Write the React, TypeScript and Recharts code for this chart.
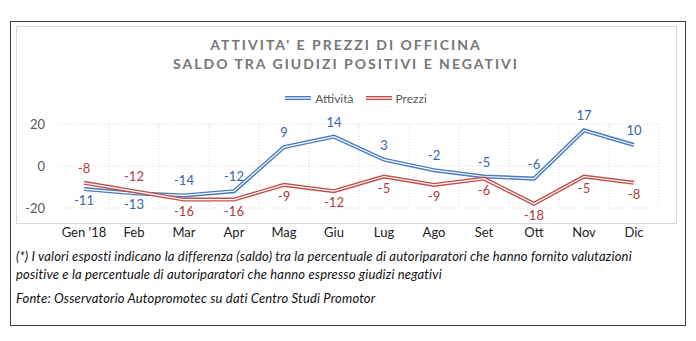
import React from "react";
import {
  LineChart,
  Line,
  XAxis,
  YAxis,
  CartesianGrid,
  LabelList,
} from "recharts";

const mesi = ["Gen '18", "Feb", "Mar", "Apr", "Mag", "Giu", "Lug", "Ago", "Set", "Ott", "Nov", "Dic"];
const attivita = [-11, -13, -14, -12, 9, 14, 3, -2, -5, -6, 17, 10];
const prezzi = [-8, -12, -16, -16, -9, -12, -5, -9, -6, -18, -5, -8];
const yTicks = [-20, 0, 20];

const BLUE = "#4a7abf";
const BLUE_TXT = "#3a64a8";
const RED = "#c0504d";
const RED_TXT = "#b0403d";
const FONT = "Lato, 'Liberation Sans', sans-serif";

const data = mesi.map((m, i) => ({ mese: m, attivita: attivita[i], prezzi: prezzi[i] }));

// etichetta sopra se la serie sta sopra l'altra, altrimenti sotto
const makeLabel = (own: number[], other: number[], color: string) => (props: any) => {
  const { x, y, index, value } = props;
  const above = own[index] >= other[index];
  return (
    <text
      x={x}
      y={above ? y - 10 : y + 16}
      textAnchor="middle"
      fill={color}
      fontSize={13}
      fontFamily={FONT}
    >
      {value}
    </text>
  );
};

const LegendItem = ({ color, label, gap }: { color: string; label: string; gap: number }) => (
  <span style={{ display: "inline-flex", alignItems: "center", marginRight: gap }}>
    <svg width={26} height={6} style={{ marginRight: 4 }}>
      <line x1={0} x2={26} y1={3} y2={3} stroke={color} strokeWidth={4} />
      <line x1={0} x2={26} y1={3} y2={3} stroke="#fff" strokeWidth={1.2} />
    </svg>
    {label}
  </span>
);

const App: React.FC = () => {
  return (
    <div
      style={{
        position: "absolute",
        left: 0,
        top: 0,
        width: 696,
        height: 341,
        background: "#fff",
        fontFamily: FONT,
        overflow: "hidden",
      }}
    >
      {/* cornice esterna */}
      <div
        style={{
          position: "absolute",
          left: 10,
          top: 21,
          width: 674,
          height: 303,
          border: "1.5px solid #3f3f3f",
        }}
      />
      {/* cornice grafico */}
      <div
        style={{
          position: "absolute",
          left: 16,
          top: 26,
          width: 659,
          height: 196,
          border: "1px solid #d9d9d9",
        }}
      />
      <div
        style={{
          position: "absolute",
          left: 16,
          top: 35,
          width: 660,
          textAlign: "center",
          color: "#767676",
          fontWeight: 700,
          fontSize: 14,
          letterSpacing: 2,
          lineHeight: "19px",
        }}
      >
        <div>ATTIVITA' E PREZZI DI OFFICINA</div>
        <div>SALDO TRA GIUDIZI POSITIVI E NEGATIVI</div>
      </div>
      <div
        style={{
          position: "absolute",
          left: 26,
          top: 89,
          width: 660,
          textAlign: "center",
          fontSize: 12,
          color: "#595959",
        }}
      >
        <LegendItem color={BLUE} label="Attività" gap={12} />
        <LegendItem color={RED} label="Prezzi" gap={0} />
      </div>
      <div style={{ position: "absolute", left: 0, top: 0 }}>
        <LineChart
          width={696}
          height={260}
          data={data}
          margin={{ top: 124, right: 37, left: 29, bottom: 22 }}
        >
          <CartesianGrid
            stroke="#d9d9d9"
            strokeDasharray="1 2"
            verticalCoordinatesGenerator={({ offset }: any) =>
              mesi.map((_, i) => offset.left + ((i + 1) * offset.width) / mesi.length)
            }
          />
          <XAxis
            dataKey="mese"
            scale="point"
            padding={{ left: 25, right: 25 }}
            axisLine={false}
            tickLine={false}
            height={30}
            tick={{ fill: "#222", fontSize: 13, fontFamily: FONT }}
            tickMargin={14}
            interval={0}
          />
          <YAxis
            domain={[-20, 20]}
            ticks={yTicks}
            width={30}
            axisLine={false}
            tickLine={false}
            tick={{ fill: "#595959", fontSize: 13, fontFamily: FONT }}
            tickMargin={8}
          />
          <Line dataKey="attivita" stroke={BLUE} strokeWidth={4} dot={false} isAnimationActive={false}>
            <LabelList dataKey="attivita" content={makeLabel(attivita, prezzi, BLUE_TXT)} />
          </Line>
          <Line dataKey="attivita" stroke="#fff" strokeWidth={1.2} dot={false} isAnimationActive={false} />
          <Line dataKey="prezzi" stroke={RED} strokeWidth={4} dot={false} isAnimationActive={false}>
            <LabelList dataKey="prezzi" content={makeLabel(prezzi, attivita, RED_TXT)} />
          </Line>
          <Line dataKey="prezzi" stroke="#fff" strokeWidth={1.2} dot={false} isAnimationActive={false} />
        </LineChart>
      </div>
      <div
        style={{
          position: "absolute",
          left: 16,
          top: 247,
          width: 668,
          fontSize: 13,
          letterSpacing: 0.17,
          fontStyle: "italic",
          color: "#111",
          lineHeight: "18px",
        }}
      >
        <div>
          (*) I valori esposti indicano la differenza (saldo) tra la percentuale di autoriparatori che hanno fornito valutazioni
        </div>
        <div>positive e la percentuale di autoriparatori che hanno espresso giudizi negativi</div>
        <div style={{ marginTop: 6 }}>Fonte: Osservatorio Autopromotec su dati Centro Studi Promotor</div>
      </div>
    </div>
  );
};

export default App;
